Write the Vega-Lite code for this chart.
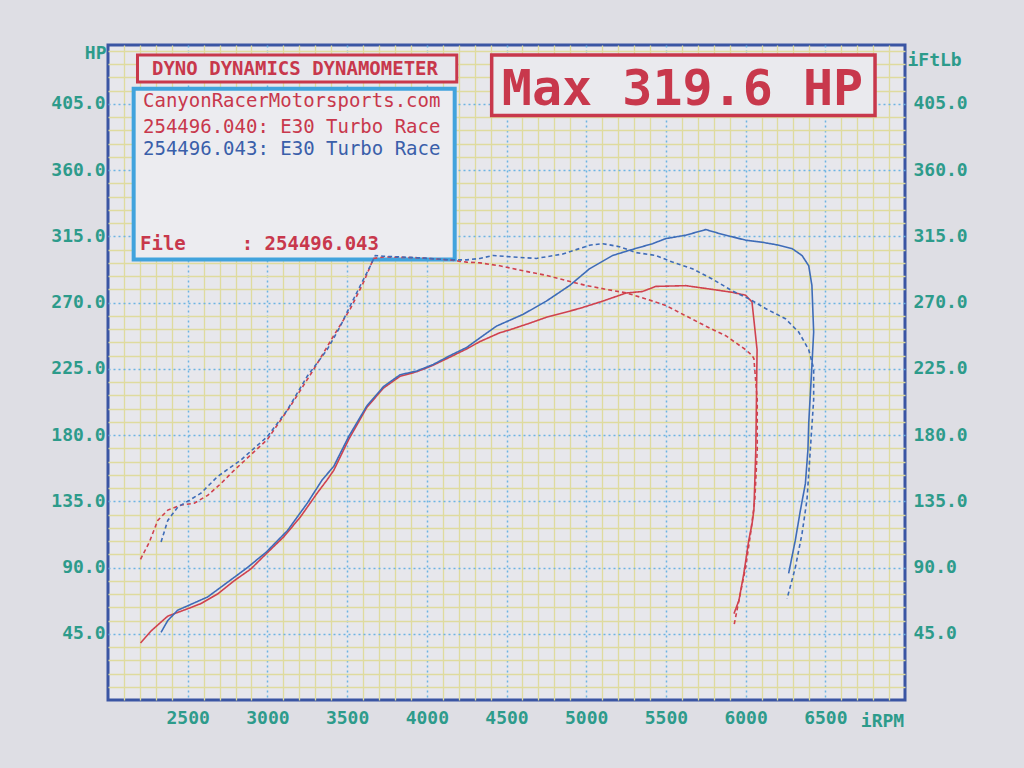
{
  "$schema": "https://vega.github.io/schema/vega-lite/v6.json",
  "width": 797,
  "height": 655,
  "autosize": {"type": "none"},
  "padding": {"left": 108, "top": 45, "right": 119, "bottom": 68},
  "background": "#dedee4",
  "config": {
    "view": {"stroke": "#3a55a3", "strokeWidth": 3, "fill": "#e7e7ec"},
    "axis": {"labelFont": "DejaVu Sans Mono", "titleFont": "DejaVu Sans Mono", "labelColor": "#2d9b8b", "titleColor": "#2d9b8b", "labelFontSize": 18, "titleFontSize": 18, "labelFontWeight": "bold", "titleFontWeight": "bold", "domain": false, "ticks": false}
  },
  "data": {"values": [
    {"run":"040","measure":"HP","rpm":2204,"value":38.7},
    {"run":"040","measure":"HP","rpm":2271,"value":47},
    {"run":"040","measure":"HP","rpm":2375,"value":57},
    {"run":"040","measure":"HP","rpm":2500,"value":62},
    {"run":"040","measure":"HP","rpm":2583,"value":65.5},
    {"run":"040","measure":"HP","rpm":2687,"value":72},
    {"run":"040","measure":"HP","rpm":2791,"value":81},
    {"run":"040","measure":"HP","rpm":2896,"value":89},
    {"run":"040","measure":"HP","rpm":2994,"value":99.5},
    {"run":"040","measure":"HP","rpm":3104,"value":111},
    {"run":"040","measure":"HP","rpm":3208,"value":124.5},
    {"run":"040","measure":"HP","rpm":3312,"value":140.5},
    {"run":"040","measure":"HP","rpm":3375,"value":149.6},
    {"run":"040","measure":"HP","rpm":3416,"value":156},
    {"run":"040","measure":"HP","rpm":3510,"value":177},
    {"run":"040","measure":"HP","rpm":3625,"value":199},
    {"run":"040","measure":"HP","rpm":3729,"value":212},
    {"run":"040","measure":"HP","rpm":3833,"value":220},
    {"run":"040","measure":"HP","rpm":3937,"value":223},
    {"run":"040","measure":"HP","rpm":4041,"value":227.5},
    {"run":"040","measure":"HP","rpm":4146,"value":233},
    {"run":"040","measure":"HP","rpm":4250,"value":238.5},
    {"run":"040","measure":"HP","rpm":4333,"value":243.5},
    {"run":"040","measure":"HP","rpm":4458,"value":249.5},
    {"run":"040","measure":"HP","rpm":4521,"value":251.5},
    {"run":"040","measure":"HP","rpm":4645,"value":256},
    {"run":"040","measure":"HP","rpm":4750,"value":260},
    {"run":"040","measure":"HP","rpm":4958,"value":266},
    {"run":"040","measure":"HP","rpm":5104,"value":271},
    {"run":"040","measure":"HP","rpm":5250,"value":276.5},
    {"run":"040","measure":"HP","rpm":5352,"value":277.5},
    {"run":"040","measure":"HP","rpm":5437,"value":281},
    {"run":"040","measure":"HP","rpm":5625,"value":281.5},
    {"run":"040","measure":"HP","rpm":5789,"value":279},
    {"run":"040","measure":"HP","rpm":5914,"value":277},
    {"run":"040","measure":"HP","rpm":6000,"value":275},
    {"run":"040","measure":"HP","rpm":6040,"value":270.5},
    {"run":"040","measure":"HP","rpm":6072,"value":238},
    {"run":"040","measure":"HP","rpm":6064,"value":170},
    {"run":"040","measure":"HP","rpm":6052,"value":129},
    {"run":"040","measure":"HP","rpm":6041,"value":120},
    {"run":"040","measure":"HP","rpm":6020,"value":108.6},
    {"run":"040","measure":"HP","rpm":5989,"value":86},
    {"run":"040","measure":"HP","rpm":5958,"value":67.6},
    {"run":"040","measure":"HP","rpm":5927,"value":58.7},

    {"run":"043","measure":"HP","rpm":2333,"value":46},
    {"run":"043","measure":"HP","rpm":2375,"value":54},
    {"run":"043","measure":"HP","rpm":2437,"value":61},
    {"run":"043","measure":"HP","rpm":2500,"value":64},
    {"run":"043","measure":"HP","rpm":2625,"value":70},
    {"run":"043","measure":"HP","rpm":2750,"value":80},
    {"run":"043","measure":"HP","rpm":2875,"value":90},
    {"run":"043","measure":"HP","rpm":2994,"value":100.6},
    {"run":"043","measure":"HP","rpm":3125,"value":115},
    {"run":"043","measure":"HP","rpm":3250,"value":133.7},
    {"run":"043","measure":"HP","rpm":3344,"value":149.6},
    {"run":"043","measure":"HP","rpm":3416,"value":158.7},
    {"run":"043","measure":"HP","rpm":3510,"value":179},
    {"run":"043","measure":"HP","rpm":3625,"value":200},
    {"run":"043","measure":"HP","rpm":3729,"value":213},
    {"run":"043","measure":"HP","rpm":3833,"value":221},
    {"run":"043","measure":"HP","rpm":3937,"value":223.5},
    {"run":"043","measure":"HP","rpm":4041,"value":228},
    {"run":"043","measure":"HP","rpm":4146,"value":234},
    {"run":"043","measure":"HP","rpm":4250,"value":239.5},
    {"run":"043","measure":"HP","rpm":4333,"value":246},
    {"run":"043","measure":"HP","rpm":4437,"value":254},
    {"run":"043","measure":"HP","rpm":4604,"value":262},
    {"run":"043","measure":"HP","rpm":4750,"value":271},
    {"run":"043","measure":"HP","rpm":4896,"value":281.6},
    {"run":"043","measure":"HP","rpm":5021,"value":293},
    {"run":"043","measure":"HP","rpm":5166,"value":302},
    {"run":"043","measure":"HP","rpm":5270,"value":305.5},
    {"run":"043","measure":"HP","rpm":5416,"value":310},
    {"run":"043","measure":"HP","rpm":5500,"value":313.5},
    {"run":"043","measure":"HP","rpm":5625,"value":315.8},
    {"run":"043","measure":"HP","rpm":5750,"value":319.6},
    {"run":"043","measure":"HP","rpm":5833,"value":317},
    {"run":"043","measure":"HP","rpm":5916,"value":314.7},
    {"run":"043","measure":"HP","rpm":6000,"value":312.4},
    {"run":"043","measure":"HP","rpm":6104,"value":311},
    {"run":"043","measure":"HP","rpm":6208,"value":309},
    {"run":"043","measure":"HP","rpm":6291,"value":306.7},
    {"run":"043","measure":"HP","rpm":6354,"value":302},
    {"run":"043","measure":"HP","rpm":6396,"value":295},
    {"run":"043","measure":"HP","rpm":6416,"value":281.6},
    {"run":"043","measure":"HP","rpm":6427,"value":250},
    {"run":"043","measure":"HP","rpm":6416,"value":227},
    {"run":"043","measure":"HP","rpm":6396,"value":188},
    {"run":"043","measure":"HP","rpm":6391,"value":170},
    {"run":"043","measure":"HP","rpm":6375,"value":147},
    {"run":"043","measure":"HP","rpm":6344,"value":129},
    {"run":"043","measure":"HP","rpm":6312,"value":108.6},
    {"run":"043","measure":"HP","rpm":6270,"value":86},

    {"run":"040","measure":"TQ","rpm":2204,"value":95.6},
    {"run":"040","measure":"TQ","rpm":2260,"value":107.4},
    {"run":"040","measure":"TQ","rpm":2312,"value":122},
    {"run":"040","measure":"TQ","rpm":2375,"value":129},
    {"run":"040","measure":"TQ","rpm":2458,"value":132.5},
    {"run":"040","measure":"TQ","rpm":2541,"value":133.7},
    {"run":"040","measure":"TQ","rpm":2625,"value":139},
    {"run":"040","measure":"TQ","rpm":2708,"value":147},
    {"run":"040","measure":"TQ","rpm":2791,"value":156},
    {"run":"040","measure":"TQ","rpm":3000,"value":177},
    {"run":"040","measure":"TQ","rpm":3146,"value":200},
    {"run":"040","measure":"TQ","rpm":3291,"value":224.7},
    {"run":"040","measure":"TQ","rpm":3416,"value":247.5},
    {"run":"040","measure":"TQ","rpm":3520,"value":265.7},
    {"run":"040","measure":"TQ","rpm":3604,"value":284},
    {"run":"040","measure":"TQ","rpm":3666,"value":300},
    {"run":"040","measure":"TQ","rpm":3729,"value":301},
    {"run":"040","measure":"TQ","rpm":3937,"value":300.5},
    {"run":"040","measure":"TQ","rpm":4146,"value":299},
    {"run":"040","measure":"TQ","rpm":4250,"value":297.5},
    {"run":"040","measure":"TQ","rpm":4333,"value":297},
    {"run":"040","measure":"TQ","rpm":4458,"value":295},
    {"run":"040","measure":"TQ","rpm":4500,"value":294},
    {"run":"040","measure":"TQ","rpm":4645,"value":290.7},
    {"run":"040","measure":"TQ","rpm":4750,"value":288.5},
    {"run":"040","measure":"TQ","rpm":4875,"value":285},
    {"run":"040","measure":"TQ","rpm":5000,"value":281.6},
    {"run":"040","measure":"TQ","rpm":5125,"value":279},
    {"run":"040","measure":"TQ","rpm":5250,"value":276.6},
    {"run":"040","measure":"TQ","rpm":5375,"value":272.5},
    {"run":"040","measure":"TQ","rpm":5500,"value":268},
    {"run":"040","measure":"TQ","rpm":5625,"value":261},
    {"run":"040","measure":"TQ","rpm":5750,"value":254},
    {"run":"040","measure":"TQ","rpm":5875,"value":247.5},
    {"run":"040","measure":"TQ","rpm":6000,"value":238},
    {"run":"040","measure":"TQ","rpm":6041,"value":234},
    {"run":"040","measure":"TQ","rpm":6052,"value":232},
    {"run":"040","measure":"TQ","rpm":6073,"value":204},
    {"run":"040","measure":"TQ","rpm":6073,"value":170},
    {"run":"040","measure":"TQ","rpm":6058,"value":136},
    {"run":"040","measure":"TQ","rpm":6031,"value":113},
    {"run":"040","measure":"TQ","rpm":6000,"value":90},
    {"run":"040","measure":"TQ","rpm":5958,"value":67.6},
    {"run":"040","measure":"TQ","rpm":5927,"value":50.5},

    {"run":"043","measure":"TQ","rpm":2333,"value":107.4},
    {"run":"043","measure":"TQ","rpm":2375,"value":122},
    {"run":"043","measure":"TQ","rpm":2437,"value":131},
    {"run":"043","measure":"TQ","rpm":2500,"value":135},
    {"run":"043","measure":"TQ","rpm":2583,"value":140.5},
    {"run":"043","measure":"TQ","rpm":2687,"value":151.8},
    {"run":"043","measure":"TQ","rpm":2833,"value":163},
    {"run":"043","measure":"TQ","rpm":3000,"value":179},
    {"run":"043","measure":"TQ","rpm":3125,"value":197},
    {"run":"043","measure":"TQ","rpm":3250,"value":220},
    {"run":"043","measure":"TQ","rpm":3375,"value":238},
    {"run":"043","measure":"TQ","rpm":3458,"value":254},
    {"run":"043","measure":"TQ","rpm":3520,"value":268},
    {"run":"043","measure":"TQ","rpm":3583,"value":281.6},
    {"run":"043","measure":"TQ","rpm":3646,"value":295},
    {"run":"043","measure":"TQ","rpm":3677,"value":302},
    {"run":"043","measure":"TQ","rpm":3727,"value":301.5},
    {"run":"043","measure":"TQ","rpm":3937,"value":300.5},
    {"run":"043","measure":"TQ","rpm":4146,"value":299},
    {"run":"043","measure":"TQ","rpm":4250,"value":299},
    {"run":"043","measure":"TQ","rpm":4333,"value":300},
    {"run":"043","measure":"TQ","rpm":4416,"value":302},
    {"run":"043","measure":"TQ","rpm":4541,"value":301},
    {"run":"043","measure":"TQ","rpm":4687,"value":300},
    {"run":"043","measure":"TQ","rpm":4854,"value":303},
    {"run":"043","measure":"TQ","rpm":4958,"value":306.7},
    {"run":"043","measure":"TQ","rpm":5021,"value":309},
    {"run":"043","measure":"TQ","rpm":5104,"value":310},
    {"run":"043","measure":"TQ","rpm":5208,"value":308},
    {"run":"043","measure":"TQ","rpm":5312,"value":304},
    {"run":"043","measure":"TQ","rpm":5437,"value":302},
    {"run":"043","measure":"TQ","rpm":5541,"value":297.5},
    {"run":"043","measure":"TQ","rpm":5666,"value":293},
    {"run":"043","measure":"TQ","rpm":5791,"value":286},
    {"run":"043","measure":"TQ","rpm":5916,"value":278},
    {"run":"043","measure":"TQ","rpm":6021,"value":272.5},
    {"run":"043","measure":"TQ","rpm":6125,"value":266},
    {"run":"043","measure":"TQ","rpm":6250,"value":259},
    {"run":"043","measure":"TQ","rpm":6333,"value":250},
    {"run":"043","measure":"TQ","rpm":6396,"value":238},
    {"run":"043","measure":"TQ","rpm":6427,"value":225},
    {"run":"043","measure":"TQ","rpm":6427,"value":204},
    {"run":"043","measure":"TQ","rpm":6406,"value":170},
    {"run":"043","measure":"TQ","rpm":6385,"value":136},
    {"run":"043","measure":"TQ","rpm":6354,"value":113},
    {"run":"043","measure":"TQ","rpm":6312,"value":90},
    {"run":"043","measure":"TQ","rpm":6260,"value":68.8}
  ]},
  "resolve": {"axis": {"x": "independent", "y": "independent"}},
  "layer": [
    {
      "mark": {"type": "line", "opacity": 0},
      "encoding": {
        "x": {"field": "rpm", "type": "quantitative", "scale": {"domain": [2000, 7000], "nice": false, "zero": false},
          "axis": {"orient": "bottom", "values": [2100,2200,2300,2400,2600,2700,2800,2900,3100,3200,3300,3400,3600,3700,3800,3900,4100,4200,4300,4400,4600,4700,4800,4900,5100,5200,5300,5400,5600,5700,5800,5900,6100,6200,6300,6400,6600,6700,6800,6900], "labels": false, "title": null, "grid": true, "gridColor": "#dfdb9e", "gridWidth": 1.3, "gridOpacity": 1}},
        "y": {"field": "value", "type": "quantitative", "scale": {"domain": [0, 445], "nice": false, "zero": true},
          "axis": {"orient": "left", "values": [9,18,27,36,54,63,72,81,99,108,117,126,144,153,162,171,189,198,207,216,234,243,252,261,279,288,297,306,324,333,342,351,369,378,387,396,414,423,432,441], "labels": false, "title": null, "grid": true, "gridColor": "#dfdb9e", "gridWidth": 1.3, "gridOpacity": 1}},
        "detail": {"field": "run"}
      }
    },
    {
      "mark": {"type": "line", "opacity": 0},
      "encoding": {
        "x": {"field": "rpm", "type": "quantitative", "scale": {"domain": [2000, 7000], "nice": false, "zero": false},
          "axis": {"orient": "bottom", "values": [2500,3000,3500,4000,4500,5000,5500,6000,6500], "format": "d", "labelPadding": 9, "grid": true, "gridColor": "#6db4e2", "gridDash": [2, 3], "gridWidth": 1.5, "gridOpacity": 1,
            "title": "iRPM", "titleX": 774, "titleY": 21, "titleAlign": "center", "titleBaseline": "middle", "titleAngle": 0}},
        "y": {"field": "value", "type": "quantitative", "scale": {"domain": [0, 445], "nice": false, "zero": true},
          "axis": {"orient": "left", "values": [45,90,135,180,225,270,315,360,405], "format": ".1f", "labelPadding": 3, "grid": true, "gridColor": "#6db4e2", "gridDash": [2, 3], "gridWidth": 1.5, "gridOpacity": 1,
            "title": "HP", "titleAngle": 0, "titleX": -2, "titleY": 8, "titleAlign": "right", "titleBaseline": "middle"}},
        "detail": {"field": "run"}
      }
    },
    {
      "mark": {"type": "line", "opacity": 0},
      "encoding": {
        "x": {"field": "rpm", "type": "quantitative", "scale": {"domain": [2000, 7000], "nice": false, "zero": false}, "axis": null},
        "y": {"field": "value", "type": "quantitative", "scale": {"domain": [0, 445], "nice": false, "zero": true},
          "axis": {"orient": "right", "values": [45,90,135,180,225,270,315,360,405], "format": ".1f", "labelPadding": 8, "grid": false,
            "title": "iFtLb", "titleAngle": 0, "titleX": 2, "titleY": 15, "titleAlign": "left", "titleBaseline": "middle"}},
        "detail": {"field": "run"}
      }
    },
    {
      "data": {"values": [{}]},
      "mark": {"type": "rect", "fill": "#e7e7ec", "stroke": "#c8384c", "strokeWidth": 3},
      "encoding": {
        "x": {"datum": 2185, "type": "quantitative", "scale": {"domain": [2000, 7000], "nice": false, "zero": false}, "axis": null},
        "x2": {"datum": 4188},
        "y": {"datum": 438.2, "type": "quantitative", "scale": {"domain": [0, 445], "nice": false, "zero": true}, "axis": null},
        "y2": {"datum": 419.9}
      }
    },
    {
      "data": {"values": [{}]},
      "mark": {"type": "rect", "fill": "#ececf0", "stroke": "#41a3dd", "strokeWidth": 4},
      "encoding": {
        "x": {"datum": 2161, "type": "quantitative", "scale": {"domain": [2000, 7000], "nice": false, "zero": false}, "axis": null},
        "x2": {"datum": 4175},
        "y": {"datum": 415.3, "type": "quantitative", "scale": {"domain": [0, 445], "nice": false, "zero": true}, "axis": null},
        "y2": {"datum": 299.2}
      }
    },
    {
      "data": {"values": [{}]},
      "mark": {"type": "rect", "fill": "#eaeaee", "stroke": "#c8384c", "strokeWidth": 3.5},
      "encoding": {
        "x": {"datum": 4407, "type": "quantitative", "scale": {"domain": [2000, 7000], "nice": false, "zero": false}, "axis": null},
        "x2": {"datum": 6812},
        "y": {"datum": 438.2, "type": "quantitative", "scale": {"domain": [0, 445], "nice": false, "zero": true}, "axis": null},
        "y2": {"datum": 397.1}
      }
    },
    {
      "data": {"values": [{}]},
      "mark": {"type": "text", "font": "DejaVu Sans Mono", "fontSize": 19, "fontWeight": "bold", "color": "#c8384c", "align": "center", "baseline": "alphabetic"},
      "encoding": {
        "x": {"datum": 3173, "type": "quantitative", "scale": {"domain": [2000, 7000], "nice": false, "zero": false}, "axis": null},
        "y": {"datum": 424.4, "type": "quantitative", "scale": {"domain": [0, 445], "nice": false, "zero": true}, "axis": null},
        "text": {"value": "DYNO DYNAMICS DYNAMOMETER"}
      }
    },
    {
      "data": {"values": [{}]},
      "mark": {"type": "text", "font": "DejaVu Sans Mono", "fontSize": 19, "color": "#c8384c", "align": "left", "baseline": "alphabetic"},
      "encoding": {
        "x": {"datum": 2219.6, "type": "quantitative", "scale": {"domain": [2000, 7000], "nice": false, "zero": false}, "axis": null},
        "y": {"datum": 402.9, "type": "quantitative", "scale": {"domain": [0, 445], "nice": false, "zero": true}, "axis": null},
        "text": {"value": "CanyonRacerMotorsports.com"}
      }
    },
    {
      "data": {"values": [{}]},
      "mark": {"type": "text", "font": "DejaVu Sans Mono", "fontSize": 19, "color": "#c8384c", "align": "left", "baseline": "alphabetic"},
      "encoding": {
        "x": {"datum": 2219.6, "type": "quantitative", "scale": {"domain": [2000, 7000], "nice": false, "zero": false}, "axis": null},
        "y": {"datum": 385.2, "type": "quantitative", "scale": {"domain": [0, 445], "nice": false, "zero": true}, "axis": null},
        "text": {"value": "254496.040: E30 Turbo Race"}
      }
    },
    {
      "data": {"values": [{}]},
      "mark": {"type": "text", "font": "DejaVu Sans Mono", "fontSize": 19, "color": "#3a5faa", "align": "left", "baseline": "alphabetic"},
      "encoding": {
        "x": {"datum": 2219.6, "type": "quantitative", "scale": {"domain": [2000, 7000], "nice": false, "zero": false}, "axis": null},
        "y": {"datum": 370.3, "type": "quantitative", "scale": {"domain": [0, 445], "nice": false, "zero": true}, "axis": null},
        "text": {"value": "254496.043: E30 Turbo Race"}
      }
    },
    {
      "data": {"values": [{}]},
      "mark": {"type": "text", "font": "DejaVu Sans Mono", "fontSize": 19, "fontWeight": "bold", "color": "#c8384c", "align": "left", "baseline": "alphabetic"},
      "encoding": {
        "x": {"datum": 2200.8, "type": "quantitative", "scale": {"domain": [2000, 7000], "nice": false, "zero": false}, "axis": null},
        "y": {"datum": 305.7, "type": "quantitative", "scale": {"domain": [0, 445], "nice": false, "zero": true}, "axis": null},
        "text": {"value": "File"}
      }
    },
    {
      "data": {"values": [{}]},
      "mark": {"type": "text", "font": "DejaVu Sans Mono", "fontSize": 19, "fontWeight": "bold", "color": "#c8384c", "align": "left", "baseline": "alphabetic"},
      "encoding": {
        "x": {"datum": 2838.8, "type": "quantitative", "scale": {"domain": [2000, 7000], "nice": false, "zero": false}, "axis": null},
        "y": {"datum": 305.7, "type": "quantitative", "scale": {"domain": [0, 445], "nice": false, "zero": true}, "axis": null},
        "text": {"value": ": 254496.043"}
      }
    },
    {
      "data": {"values": [{}]},
      "mark": {"type": "text", "font": "DejaVu Sans Mono", "fontSize": 50, "fontWeight": "bold", "color": "#c8384c", "align": "center", "baseline": "alphabetic"},
      "encoding": {
        "x": {"datum": 5604, "type": "quantitative", "scale": {"domain": [2000, 7000], "nice": false, "zero": false}, "axis": null},
        "y": {"datum": 404.2, "type": "quantitative", "scale": {"domain": [0, 445], "nice": false, "zero": true}, "axis": null},
        "text": {"value": "Max 319.6 HP"}
      }
    },
    {
      "mark": {"type": "line", "strokeWidth": 1.6, "interpolate": "linear"},
      "encoding": {
        "x": {"field": "rpm", "type": "quantitative", "scale": {"domain": [2000, 7000], "nice": false, "zero": false}, "axis": null},
        "y": {"field": "value", "type": "quantitative", "scale": {"domain": [0, 445], "nice": false, "zero": true}, "axis": null},
        "color": {"field": "run", "type": "nominal", "scale": {"domain": ["040", "043"], "range": ["#d0424e", "#3e6cb8"]}, "legend": null},
        "strokeDash": {"field": "measure", "type": "nominal", "scale": {"domain": ["HP", "TQ"], "range": [[1, 0], [4, 3]]}, "legend": null},
        "order": {"value": null}
      }
    }
  ]
}
